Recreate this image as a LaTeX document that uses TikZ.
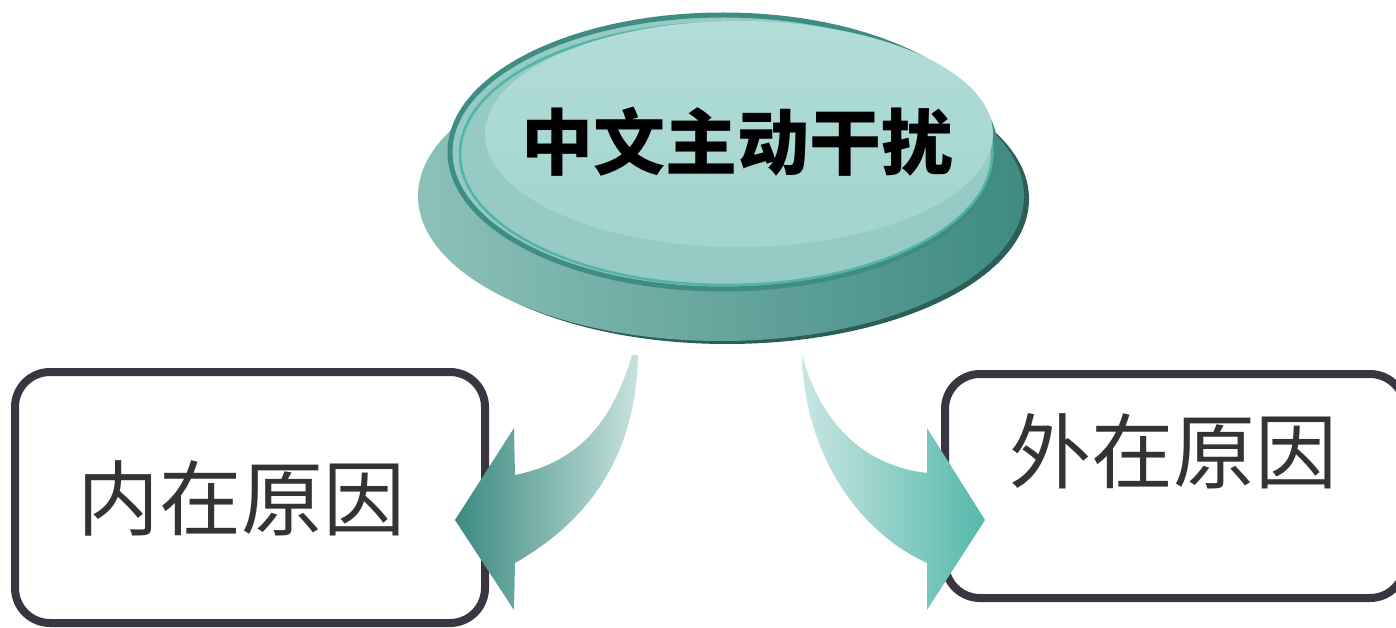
\documentclass[tikz,border=0pt]{standalone}
\usepackage{fontspec}
\newfontfamily\cjk{Noto Sans CJK SC}
\usetikzlibrary{shapes.geometric}
\definecolor{rimdark}{HTML}{2A5E57}
\definecolor{baselight}{HTML}{8CC1B9}
\definecolor{basedark}{HTML}{3F8A81}
\definecolor{toprim}{HTML}{3E8C83}
\definecolor{topring}{HTML}{52B3A7}
\definecolor{topfill}{HTML}{96CBC5}
\definecolor{hilite}{HTML}{B2DDD8}
\definecolor{hilite2}{HTML}{A3D4CE}
\definecolor{boxline}{HTML}{3A3540}
\definecolor{txtgray}{HTML}{333333}
\definecolor{arrdarkL}{HTML}{3A8A80}
\definecolor{arrlightL}{HTML}{C8E2DE}
\definecolor{arrlightR}{HTML}{C8E6E2}
\definecolor{arrdarkR}{HTML}{55B8AB}
\tikzset{
  causebox/.style={draw=boxline, line width=8pt, rounded corners=35pt, fill=white, inner sep=0pt},
  causetext/.style={font=\cjk\fontsize{82}{90}\selectfont, text=txtgray, inner sep=0pt},
  titletext/.style={font=\cjk\bfseries\fontsize{72}{80}\selectfont, text=black, inner sep=0pt},
}
\begin{document}
\begin{tikzpicture}[x=1pt,y=-1pt]
\useasboundingbox (0,0) rectangle (1396,628);
% boxes
\node[causebox, minimum width=470pt, minimum height=251pt] (inbox) at (250,497.5) {};
\node[causebox, minimum width=460pt, minimum height=224pt] (outbox) at (1175,486) {};
\node[causetext] (intext) at (241,498) {内在原因};
\node[causetext] (outtext) at (1173,451) {外在原因};
% base of the button
\fill[rimdark] (727,199) ellipse [x radius=302, y radius=145];
\shade[shading=axis, shading angle=60, left color=baselight, right color=basedark] (721,196) ellipse [x radius=303, y radius=145];
% top of the button
\fill[topfill, draw=toprim, line width=5pt] (723,152) ellipse [x radius=273, y radius=137];
\draw[topring, line width=2.5pt] (726,154) ellipse [x radius=266, y radius=131];
\shade[top color=hilite, bottom color=hilite2] (739,134) ellipse [x radius=254, y radius=113];
\node[titletext] (title) at (737,142) {中文主动干扰};
% arrows
\coordinate (lstart) at (635,355);
\coordinate (rstart) at (802,355);
\shade[left color=arrdarkL, right color=arrlightL]
  (632,355) .. controls (613,420) and (580,462) .. (515,475) -- (514,428) -- (455,520) -- (514,610) -- (515,563)
  .. controls (590,520) and (636,455) .. (638,355) -- cycle;
\shade[left color=arrlightR, right color=arrdarkR]
  (802,355) .. controls (820,420) and (860,465) .. (927,473) -- (927,428) -- (985,520) -- (927,610) -- (927,563)
  .. controls (855,530) and (804,450) .. (802,355) -- cycle;
\end{tikzpicture}
\end{document}
